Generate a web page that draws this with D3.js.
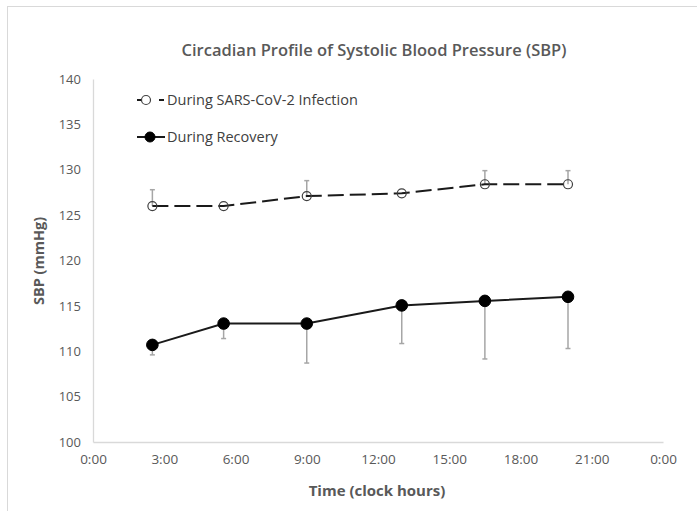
<!DOCTYPE html>
<html>
<head>
<meta charset="utf-8">
<script src="https://cdn.jsdelivr.net/npm/d3@7"></script>
<style>
  body { margin: 0; background: #fff; }
  text { font-family: "Open Sans", sans-serif; fill: #595959; }
</style>
</head>
<body>
<div id="graph"></div>
<script>
// clock hours of the measurements
var hours = [2.5, 5.5, 9, 13, 16.5, 20]
var infection = [126.0, 126.0, 127.1, 127.4, 128.4, 128.4]
var infectionErr = [1.8, 0, 1.7, 0, 1.5, 1.5]
var recovery = [110.7, 113.05, 113.05, 115.05, 115.55, 116.0]
var recoveryErr = [1.1, 1.65, 4.35, 4.2, 6.4, 5.7]

var xTicks = [0, 3, 6, 9, 12, 15, 18, 21, 24]
var yTicks = [100, 105, 110, 115, 120, 125, 130, 135, 140]

var width = 697, height = 511

var svg = d3.select('#graph').append('svg')
  .attr('width', width).attr('height', height)

// chart frame (only top/left visible in the original)
svg.append('rect')
  .attr('x', 7.5).attr('y', 6.5)
  .attr('width', width + 10).attr('height', height + 10)
  .attr('fill', 'none').attr('stroke', '#d9d9d9')

var x = d3.scaleLinear().domain([0, 24]).range([93, 663])
var y = d3.scaleLinear().domain([100, 140]).range([442, 79])

var xAxis = d3.axisBottom(x).tickValues(xTicks).tickSize(0).tickPadding(12)
  .tickFormat(d => (d % 24) + ':00')
var yAxis = d3.axisLeft(y).tickValues(yTicks).tickSize(0).tickPadding(12)

svg.append('g').attr('transform', 'translate(0,442)').call(xAxis)
  .call(g => g.select('.domain').attr('stroke', '#d9d9d9').attr('stroke-width', 1.3))
  .selectAll('text').attr('font-size', 13.5).style('fill', '#595959')

svg.append('g').attr('transform', 'translate(93,0)').call(yAxis)
  .call(g => g.select('.domain').attr('stroke', '#d9d9d9').attr('stroke-width', 1.3))
  .selectAll('text').attr('font-size', 13).style('fill', '#595959')

svg.append('text')
  .attr('x', 374).attr('y', 56).attr('text-anchor', 'middle')
  .attr('font-size', 16.5).attr('font-weight', 600)
  .text('Circadian Profile of Systolic Blood Pressure (SBP)')

svg.append('text')
  .attr('transform', 'translate(44,261) rotate(-90)')
  .attr('text-anchor', 'middle').attr('font-size', 14.5).attr('font-weight', 700)
  .text('SBP (mmHg)')

svg.append('text')
  .attr('x', 377).attr('y', 496).attr('text-anchor', 'middle')
  .attr('font-size', 15).attr('font-weight', 700)
  .text('Time (clock hours)')

var series = [
  {name: 'During SARS-CoV-2 Infection', values: infection, err: infectionErr, dir: 1, dash: '16,6', open: true},
  {name: 'During Recovery', values: recovery, err: recoveryErr, dir: -1, dash: null, open: false}
]

var line = d3.line()
  .x((d, i) => x(hours[i]))
  .y(d => y(d))

series.forEach(s => {
  var g = svg.append('g')

  // error bars (one-sided)
  var bars = g.selectAll('g.err').data(s.values.map((v, i) => ({v, e: s.err[i], t: hours[i]})))
    .enter().append('g').filter(d => d.e > 0)
  bars.append('line')
    .attr('x1', d => x(d.t)).attr('x2', d => x(d.t))
    .attr('y1', d => y(d.v)).attr('y2', d => y(d.v + s.dir * d.e))
    .attr('stroke', '#a6a6a6').attr('stroke-width', 1.5)
  bars.append('line')
    .attr('x1', d => x(d.t) - 2.5).attr('x2', d => x(d.t) + 2.5)
    .attr('y1', d => y(d.v + s.dir * d.e)).attr('y2', d => y(d.v + s.dir * d.e))
    .attr('stroke', '#a6a6a6').attr('stroke-width', 1.5)

  g.append('path')
    .attr('d', line(s.values))
    .attr('fill', 'none').attr('stroke', '#1a1a1a').attr('stroke-width', 2)
    .attr('stroke-dasharray', s.dash)

  g.selectAll('circle').data(s.values).enter().append('circle')
    .attr('cx', (d, i) => x(hours[i])).attr('cy', d => y(d))
    .attr('r', s.open ? 4.5 : 5.8)
    .attr('fill', s.open ? 'none' : '#000')
    .attr('stroke', s.open ? '#404040' : '#000')
    .attr('stroke-width', s.open ? 1.2 : 1)
})

// legend
var legend = svg.append('g')
var ly = [100, 137]
series.forEach((s, i) => {
  var lg = legend.append('g').attr('transform', 'translate(137,' + ly[i] + ')')
  lg.append('line').attr('x1', 0).attr('x2', 28)
    .attr('stroke', '#1a1a1a').attr('stroke-width', 2)
    .attr('stroke-dasharray', s.open ? '10,12,5' : null)
  lg.append('circle').attr('cx', s.open ? 9 : 13).attr('cy', 0)
    .attr('r', s.open ? 4.5 : 5)
    .attr('fill', s.open ? '#fff' : '#000')
    .attr('stroke', s.open ? '#404040' : '#000').attr('stroke-width', s.open ? 1.2 : 1)
  lg.append('text').attr('x', 30).attr('y', 5)
    .attr('font-size', 14.5).style('fill', '#404040')
    .text(s.name)
})
</script>
</body>
</html>
